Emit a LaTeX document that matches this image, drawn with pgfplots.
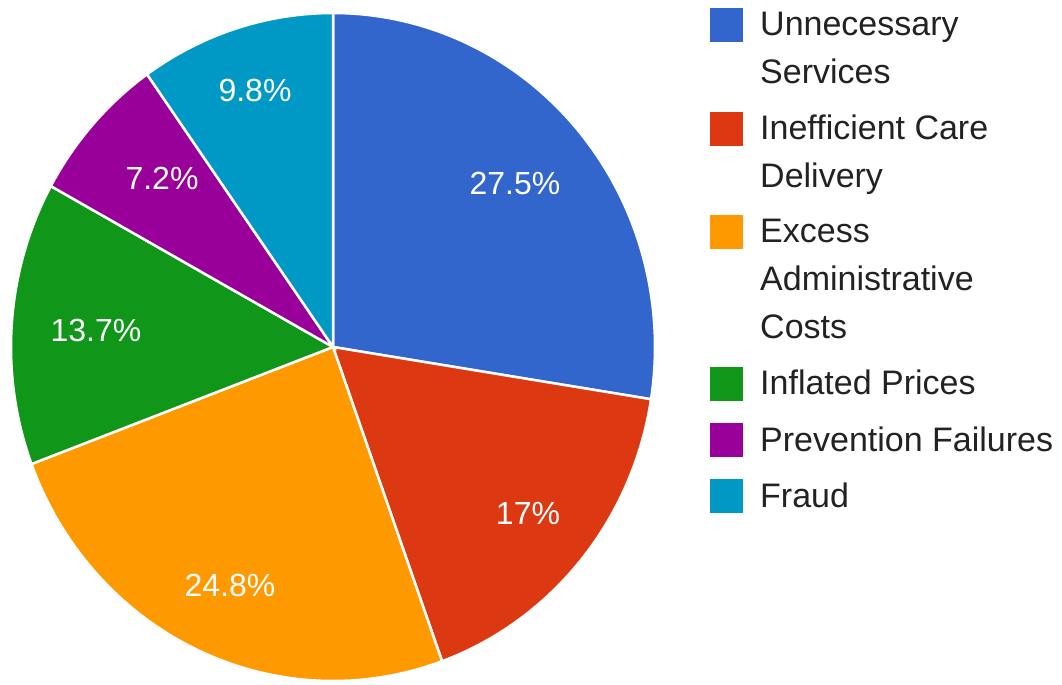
\documentclass[border=0pt]{standalone}
\usepackage{fontspec}
\setmainfont{Liberation Sans}
\usepackage{pgfplots}
\pgfplotsset{compat=1.18}
\definecolor{cA}{HTML}{3366CC}
\definecolor{cB}{HTML}{DC3912}
\definecolor{cC}{HTML}{FF9900}
\definecolor{cD}{HTML}{109618}
\definecolor{cE}{HTML}{990099}
\definecolor{cF}{HTML}{0099C6}
\definecolor{txt}{HTML}{222222}
% slice values (percent), clockwise from 12 o'clock
\def\vA{27.5}\def\vB{17}\def\vC{24.8}\def\vD{13.7}\def\vE{7.2}\def\vF{9.8}
\def\cx{333}\def\cy{337}\def\rx{322}\def\ry{334}
\begin{document}%
\begin{tikzpicture}
\pgfmathsetmacro\aA{90}
\pgfmathsetmacro\aB{\aA-3.6*\vA}
\pgfmathsetmacro\aC{\aB-3.6*\vB}
\pgfmathsetmacro\aD{\aC-3.6*\vC}
\pgfmathsetmacro\aE{\aD-3.6*\vD}
\pgfmathsetmacro\aF{\aE-3.6*\vE}
\pgfmathsetmacro\aG{\aF-3.6*\vF}
\begin{axis}[
  scale only axis, width=1062bp, height=684bp,
  xmin=0, xmax=1062, ymin=0, ymax=684,
  axis line style={draw=none}, ticks=none, clip=false,
]
\addplot[fill=cA, draw=white, line width=2.5bp, domain=\aB:\aA, samples=80, variable=\t]
  ({\cx+\rx*cos(\t)},{\cy+\ry*sin(\t)}) -- (axis cs:\cx,\cy) -- cycle;
\addplot[fill=cB, draw=white, line width=2.5bp, domain=\aC:\aB, samples=60, variable=\t]
  ({\cx+\rx*cos(\t)},{\cy+\ry*sin(\t)}) -- (axis cs:\cx,\cy) -- cycle;
\addplot[fill=cC, draw=white, line width=2.5bp, domain=\aD:\aC, samples=80, variable=\t]
  ({\cx+\rx*cos(\t)},{\cy+\ry*sin(\t)}) -- (axis cs:\cx,\cy) -- cycle;
\addplot[fill=cD, draw=white, line width=2.5bp, domain=\aE:\aD, samples=50, variable=\t]
  ({\cx+\rx*cos(\t)},{\cy+\ry*sin(\t)}) -- (axis cs:\cx,\cy) -- cycle;
\addplot[fill=cE, draw=white, line width=2.5bp, domain=\aF:\aE, samples=40, variable=\t]
  ({\cx+\rx*cos(\t)},{\cy+\ry*sin(\t)}) -- (axis cs:\cx,\cy) -- cycle;
\addplot[fill=cF, draw=white, line width=2.5bp, domain=\aG:\aF, samples=40, variable=\t]
  ({\cx+\rx*cos(\t)},{\cy+\ry*sin(\t)}) -- (axis cs:\cx,\cy) -- cycle;
% slice labels
\begin{scope}[every node/.style={text=white, font=\fontsize{32bp}{38bp}\selectfont, inner sep=0pt}]
\node at (axis cs:515,501) {27.5\%};
\node at (axis cs:528,171) {17\%};
\node at (axis cs:230,99) {24.8\%};
\node at (axis cs:96,354) {13.7\%};
\node at (axis cs:162,506) {7.2\%};
\node at (axis cs:255,594) {9.8\%};
\end{scope}
% legend
\begin{scope}[every node/.style={text=txt, font=\fontsize{34bp}{48bp}\selectfont, inner sep=0pt, anchor=base west}]
\fill[cA] (axis cs:710,676) rectangle (axis cs:743,642);
\node at (axis cs:760,648) {Unnecessary};
\node at (axis cs:760,600) {Services};
\fill[cB] (axis cs:710,572) rectangle (axis cs:743,538);
\node at (axis cs:760,544) {Inefficient Care};
\node at (axis cs:760,496) {Delivery};
\fill[cC] (axis cs:710,469) rectangle (axis cs:743,435);
\node at (axis cs:760,441) {Excess};
\node at (axis cs:760,393) {Administrative};
\node at (axis cs:760,345) {Costs};
\fill[cD] (axis cs:710,317) rectangle (axis cs:743,283);
\node at (axis cs:760,289) {Inflated Prices};
\fill[cE] (axis cs:710,261) rectangle (axis cs:743,227);
\node at (axis cs:760,233) {Prevention Failures};
\fill[cF] (axis cs:710,205) rectangle (axis cs:743,171);
\node at (axis cs:760,177) {Fraud};
\end{scope}
\end{axis}
\pgfresetboundingbox
\useasboundingbox (current axis.south west) rectangle (current axis.north east);
\end{tikzpicture}%
\end{document}
